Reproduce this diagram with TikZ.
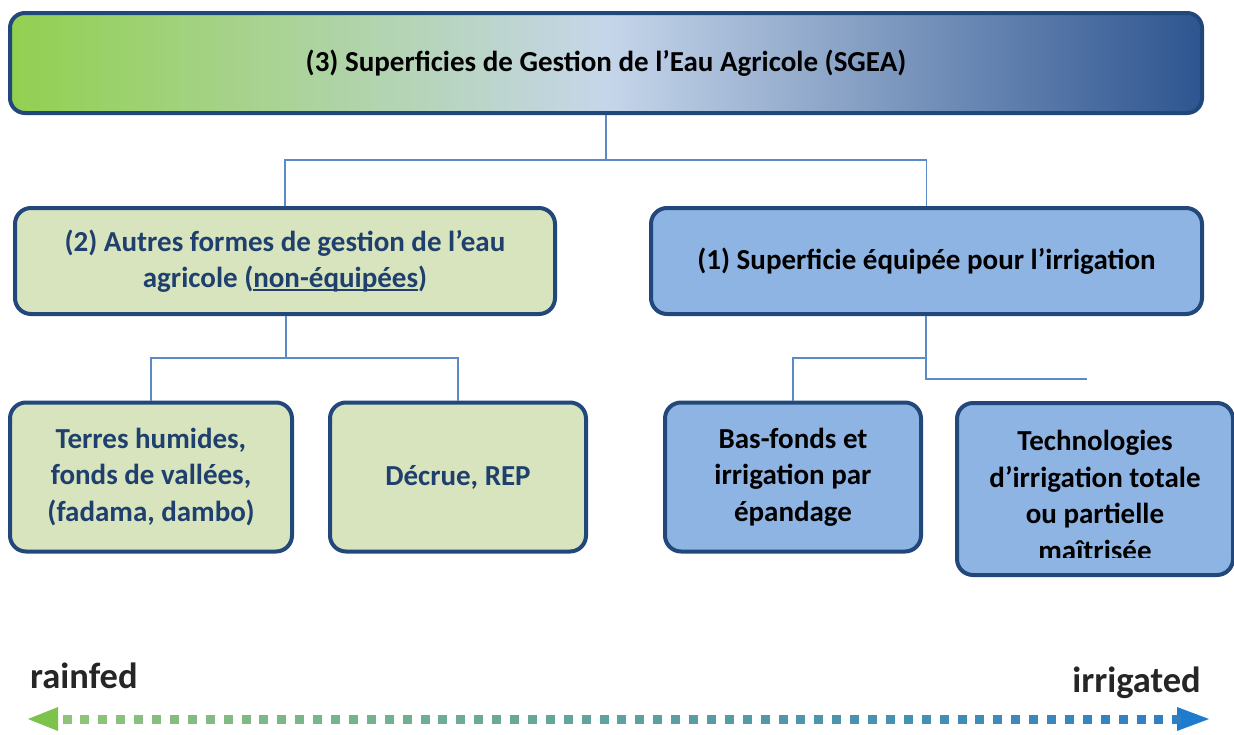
\documentclass[tikz,border=0pt]{standalone}
\usepackage{fontspec}
\setmainfont{Carlito}
\newcommand\myul[1]{\setbox0\hbox{#1}\rlap{\rule[-3pt]{\wd0}{1.6pt}}\box0}
\definecolor{bord}{HTML}{22477B}
\definecolor{conn}{HTML}{5B8AC6}
\definecolor{greenfill}{HTML}{D7E4BD}
\definecolor{bluefill}{HTML}{8EB4E3}
\definecolor{darktxt}{HTML}{1F3F6E}
\definecolor{gA}{HTML}{92D050}
\definecolor{gB}{HTML}{C6D6EA}
\definecolor{gC}{HTML}{2E5590}
\definecolor{arrG}{HTML}{7DC24B}
\definecolor{arrB}{HTML}{1F7BCB}
\definecolor{sqG}{HTML}{8EC47A}
\definecolor{sqB}{HTML}{2F7FC4}
\tikzset{
  box/.style={draw=bord, line width=4pt, rounded corners=16pt, align=center,
    font=\fontsize{29}{36.5}\selectfont\bfseries, inner sep=0pt},
  gbox/.style={box, fill=greenfill, text=darktxt},
  bbox/.style={box, fill=bluefill, text=black},
  link/.style={draw=conn, line width=1.8pt},
  lbl/.style={font=\fontsize{36.5}{40}\selectfont\bfseries, text=black!85, inner sep=0pt}
}
\begin{document}
\begin{tikzpicture}[x=1pt,y=-1pt]
\useasboundingbox (0,0) rectangle (1234,734);
% top box
\node[draw=bord, line width=4pt, rounded corners=15pt, minimum width=1192pt, minimum height=100pt,
  left color=gA, right color=gC, middle color=gB,
  font=\fontsize{29}{34}\selectfont\bfseries, inner sep=0pt] (top) at (606,63) {(3) Superficies de Gestion de l’Eau Agricole (SGEA)};
% level 2
\node[gbox, minimum width=540pt, minimum height=106pt] (autres) at (285,261)
  {(2) Autres formes de gestion de l’eau\\agricole (\myul{non-équipées})};
\node[bbox, minimum width=551pt, minimum height=106pt] (equip) at (926.5,261)
  {(1) Superficie équipée pour l’irrigation};
% level 3
\node[gbox, minimum width=282pt, minimum height=149pt] (terres) at (151,477)
  {Terres humides,\\fonds de vallées,\\(fadama, dambo)};
\node[gbox, minimum width=256pt, minimum height=149pt] (decrue) at (458,477)
  {Décrue, REP};
\node[bbox, minimum width=256pt, minimum height=149pt] (basfonds) at (793,477)
  {Bas-fonds et\\irrigation par\\épandage};
\node[bbox, minimum width=276pt, minimum height=172pt] (techno) at (1095,489) {};
\begin{scope}
  \clip (950,400) rectangle (1234,557);
  \node[align=center, font=\fontsize{29}{36.5}\selectfont\bfseries, inner sep=0pt, anchor=north] (technotxt) at (1095,430)
    {Technologies\\d’irrigation totale\\ou partielle\\maîtrisée};
\end{scope}
% connectors
\coordinate (j1) at (606,160);
\coordinate (j2) at (286,358);
\coordinate (j3) at (926,358);
\coordinate (stub) at (1087,379);
\draw[link] (top.south -| j1) -- (j1);
\draw[link] (autres.north) |- (j1) -| (equip.north);
\draw[link] (autres.south -| j2) -- (j2);
\draw[link] (terres.north) |- (j2) -| (decrue.north);
\draw[link] (equip.south -| j3) |- (stub);
\draw[link] (j3) -| (basfonds.north);
% bottom scale
\node[lbl, anchor=base west] (rain) at (30,688) {rainfed};
\node[lbl, anchor=base east] (irr) at (1201,692) {irrigated};
\coordinate (la) at (28,719);
\coordinate (ra) at (1209,719);
\fill[arrG] (la) -- ++(30,-12) -- ++(0,24) -- cycle;
\fill[arrB] (ra) -- ++(-32,-12) -- ++(0,24) -- cycle;
\foreach \i in {0,...,62} {
  \pgfmathsetmacro{\pc}{100-\i*100/62}
  \fill[sqG!\pc!sqB] ({67+\i*17.9-4.5},714.5) rectangle ++(9,9);
}
\end{tikzpicture}
\end{document}
